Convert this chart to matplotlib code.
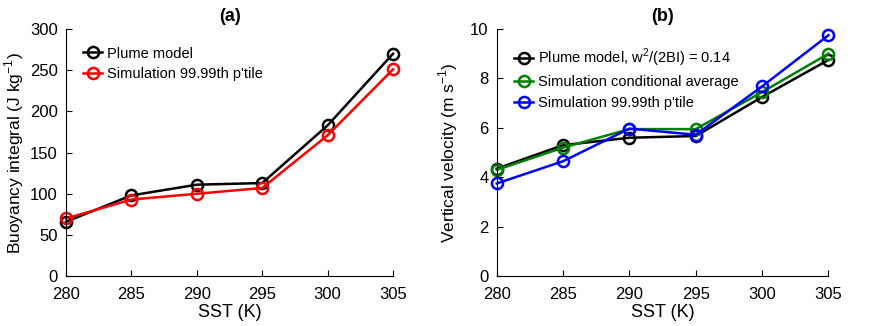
from matplotlib import pyplot as plt
import numpy as np

plt.rcParams['font.family'] = ['Liberation Sans', 'DejaVu Sans']
plt.rcParams['mathtext.fontset'] = 'custom'
plt.rcParams['mathtext.rm'] = 'Liberation Sans'

sst = [280, 285, 290, 295, 300, 305]

# (a) buoyancy integral
bi_plume = [66, 98, 111, 113, 183, 270]
bi_sim = [70, 93, 100, 107, 171, 251]

# (b) vertical velocity
w_plume = [4.35, 5.3, 5.6, 5.67, 7.25, 8.75]
w_cond = [4.3, 5.2, 5.95, 5.95, 7.45, 9.0]
w_sim = [3.75, 4.65, 5.97, 5.72, 7.68, 9.75]

fig = plt.figure(figsize=(8.73, 3.26), dpi=100)
ax1 = fig.add_axes([0.0756, 0.153, 0.3746, 0.758])
ax2 = fig.add_axes([0.569, 0.153, 0.380, 0.758])

def style(ax):
    ax.spines['top'].set_visible(False)
    ax.spines['right'].set_visible(False)
    ax.tick_params(direction='in', labelsize=12, length=4)
    ax.tick_params(axis='x', pad=8)
    ax.tick_params(axis='y', pad=6)
    ax.set_xlim(280, 305)
    ax.set_xticks(sst)
    ax.set_xlabel('SST (K)', fontsize=13, labelpad=1)

mk = dict(marker='o', markersize=8, markerfacecolor='none', markeredgewidth=1.8, linewidth=1.8, clip_on=False)
leg = dict(loc='upper left', frameon=False, fontsize=10.5, handlelength=1.3,
           handletextpad=0.3, borderaxespad=0.8, labelspacing=0.45)

ax1.plot(sst, bi_plume, color='black', label='Plume model', **mk)
ax1.plot(sst, bi_sim, color='red', label="Simulation 99.99th p'tile", **mk)
ax1.set_ylim(0, 300)
ax1.set_yticks(np.arange(0, 301, 50))
ax1.set_ylabel('Buoyancy integral (J kg$^{-1}$)', fontsize=12.5, labelpad=3)
ax1.set_title('(a)', fontsize=13, fontweight='bold', pad=6)
style(ax1)
ax1.legend(**leg)

ax2.plot(sst, w_plume, color='black', label='Plume model, w$^2$/(2BI) = 0.14', **mk)
ax2.plot(sst, w_cond, color=(0, 0.5, 0), label='Simulation conditional average', **mk)
ax2.plot(sst, w_sim, color='blue', label="Simulation 99.99th p'tile", **mk)
ax2.set_ylim(0, 10)
ax2.set_yticks(np.arange(0, 11, 2))
ax2.set_ylabel('Vertical velocity (m s$^{-1}$)', fontsize=12.5, labelpad=7)
ax2.set_title('(b)', fontsize=13, fontweight='bold', pad=6)
style(ax2)
ax2.legend(**leg)

fig.savefig('out.png', dpi=100)
